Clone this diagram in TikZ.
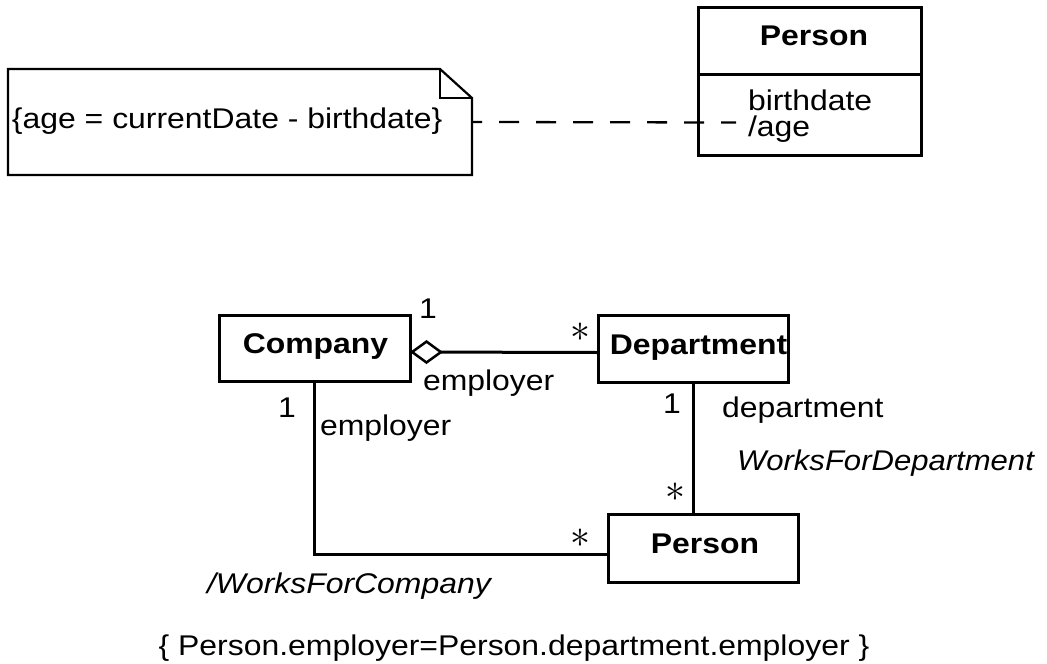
\documentclass[tikz,border=0pt]{standalone}
\usepackage{graphicx}
\usepackage{fontspec}
\setmainfont{Liberation Sans}[FakeStretch=1.12]
\usetikzlibrary{arrows.meta}
\newcommand\lblfont{\fontsize{28.5}{30}\selectfont}
\newcommand\astfont{\fontsize{24.88}{26}\selectfont}
\newcommand\multast{\scalebox{1.6}{$\ast$}}
\tikzset{
  classbox/.style={draw, line width=3pt, inner sep=0pt, outer sep=0pt},
  notebox/.style={inner sep=0pt, outer sep=0pt},
  txt/.style={inner sep=0pt, outer sep=0pt, font=\lblfont},
  cname/.style={txt, font=\lblfont\bfseries},
  rolename/.style={txt, font=\lblfont\itshape},
  mult/.style={inner sep=0pt, outer sep=0pt, font=\astfont},
  assoc/.style={line width=3pt},
  anchorline/.style={line width=2.3pt, dash pattern=on 20pt off 17pt, dash phase=10pt},
  noteline/.style={line width=2.2pt, line join=miter},
}
\begin{document}
\begin{tikzpicture}[x=1pt, y=-1pt]
\useasboundingbox (0,0) rectangle (1047,664);

% ---------- note ----------
\node[notebox, minimum width=464pt, minimum height=106pt] (note) at (240,122) {};
\draw[noteline] (note.north west) -- ([xshift=-32pt]note.north east)
   -- ([yshift=-29pt]note.north east) -- (note.south east) -- (note.south west) -- cycle;
\draw[line width=1.6pt] ([xshift=-32pt]note.north east) |- ([yshift=-29pt]note.north east);
\node[txt, anchor=base west] (notetext) at (12,128) {\{age = currentDate - birthdate\}};

% ---------- Person (top) ----------
\node[classbox, minimum width=223pt, minimum height=148pt] (persontop) at (809.5,81) {};
\coordinate (divl) at (698,74);
\coordinate (divr) at (921,74);
\draw[line width=3pt] (divl) -- (divr);
\node[cname, anchor=base] (persontopname) at (814,45) {Person};
\node[txt, anchor=base west] (attr1) at (748,110) {birthdate};
\node[txt, anchor=base west] (attr2) at (748,136) {/age};

\coordinate (dashend) at (736,122.5);
\draw[anchorline] (note.east) -- (dashend);

% ---------- classes (bottom) ----------
\node[classbox, minimum width=191pt, minimum height=66pt] (company) at (314.5,348) {};
\node[cname, anchor=base] (companyname) at (315.5,353) {Company};

\node[classbox, minimum width=190pt, minimum height=67pt] (department) at (693,348.5) {};
\node[cname, anchor=base] (departmentname) at (698.5,354) {Department};

\node[classbox, minimum width=190pt, minimum height=68pt] (person) at (703,548) {};
\node[cname, anchor=base] (personname) at (705,553) {Person};

% ---------- connectors ----------
\draw[assoc, {Diamond[open, length=33pt, width=24pt, line width=2.5pt]}-]
   ([yshift=-4pt]company.east) -- ([yshift=-4pt]department.west);
\draw[assoc] (company.south) |- ([yshift=-6pt]person.west);
\draw[assoc] (department.south) -- (department.south |- person.north);

% ---------- labels ----------
\node[txt, anchor=base] (m1) at (428,318) {1};
\node[mult] (m2) at (580,332) {\multast};
\node[txt, anchor=base west] (role1) at (423,390) {employer};

\node[txt, anchor=base] (m3) at (287,417) {1};
\node[txt, anchor=base west] (role2) at (320,435) {employer};
\node[mult] (m4) at (580,538) {\multast};

\node[txt, anchor=base] (m5) at (672,413) {1};
\node[mult] (m6) at (675,492) {\multast};
\node[txt, anchor=base west] (role3) at (722,417) {department};
\node[rolename, anchor=base west] (assoc1) at (737,470) {\addfontfeature{FakeStretch=1.09}WorksForDepartment};

\node[rolename, anchor=base west] (assoc2) at (207,593) {/WorksForCompany};

\node[txt, anchor=base] (constraint) at (514,655) {\{ Person.employer=Person.department.employer \}};
\end{tikzpicture}
\end{document}
